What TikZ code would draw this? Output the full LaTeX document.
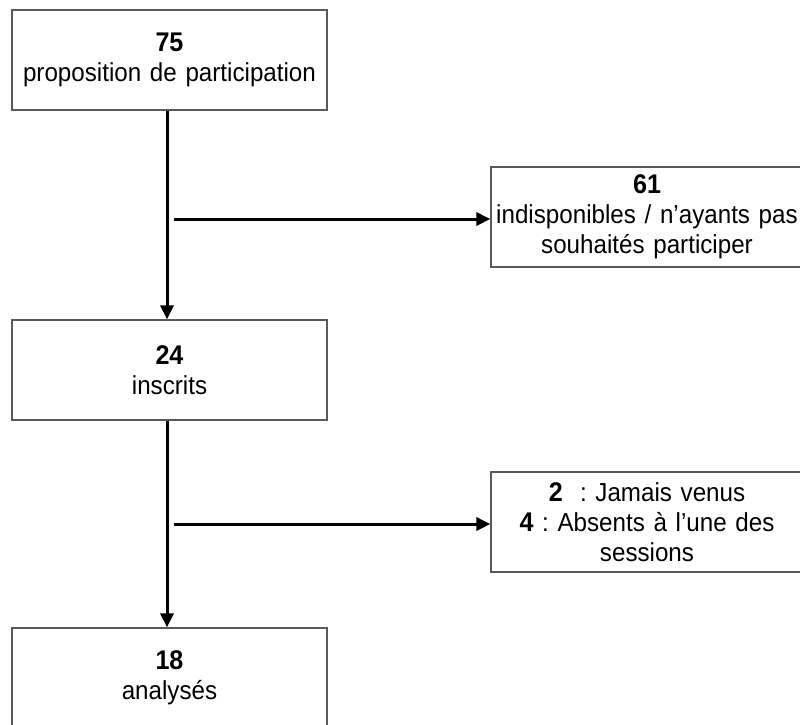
\documentclass[tikz,border=0pt]{standalone}
\usepackage{fontspec}
\setmainfont[FakeStretch=0.93,WordSpace=0.85]{Liberation Sans}
\usetikzlibrary{arrows.meta}
\frenchspacing
\newcommand{\numb}[1]{{\fontsize{27}{30}\selectfont\bfseries #1}}
\begin{document}
\begin{tikzpicture}[x=1pt,y=-1pt,
  box/.style={draw=black!65, line width=1.2pt, fill=white, inner sep=0pt,
    minimum height=100pt, align=center,
    font=\fontsize{26}{30}\selectfont},
  lbox/.style={box, minimum width=315pt, text width=315pt},
  rbox/.style={box, minimum width=312pt, text width=312pt},
  flow/.style={line width=3pt, -{Triangle[length=14pt,width=13pt]}}]
\useasboundingbox (0,0) rectangle (800,724);
\begin{scope}
\clip (0,0) rectangle (800,724);
\node[lbox] (b1) at (169.5,60) {\numb{75}\\proposition de participation};
\node[rbox] (b2) at (647,217) {\numb{61}\\indisponibles / n’ayants pas\\souhaités participer};
\node[lbox] (b3) at (169.5,370) {\numb{24}\\inscrits};
\node[rbox] (b4) at (647,522) {\numb{2}\ \ : Jamais venus\\\numb{4} : Absents à l’une des\\sessions};
\node[lbox] (b5) at (169.5,678) {\numb{18}\\analysés};
\end{scope}
\coordinate (v1) at (167,110);
\coordinate (h1) at (174,219);
\coordinate (h2) at (174,524);
\draw[flow] (v1 |- b1.south) -- (v1 |- b3.north);
\draw[flow] (v1 |- b3.south) -- (v1 |- b5.north);
\draw[flow] (h1) -- (h1 -| b2.west);
\draw[flow] (h2) -- (h2 -| b4.west);
\end{tikzpicture}
\end{document}
